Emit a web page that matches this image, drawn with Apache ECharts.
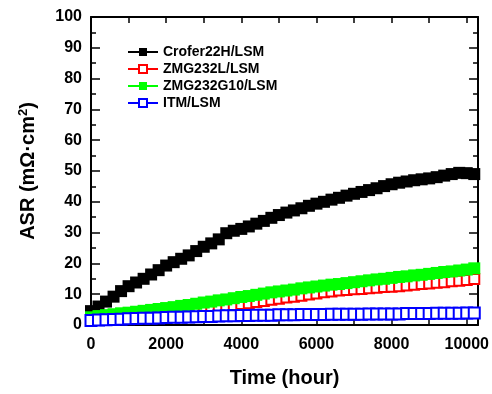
<!DOCTYPE html>
<html>
<head>
<meta charset="utf-8">
<script src="https://cdn.jsdelivr.net/npm/echarts@6/dist/echarts.min.js"></script>
<style>html,body{margin:0;padding:0;background:#fff}#c{width:492px;height:394px}</style>
</head>
<body>
<div id="c"></div>
<script>
var hours = [0,200,400,600,800,1000,1200,1400,1600,1800,2000,2200,2400,2600,2800,3000,3200,3400,3600,3800,4000,4200,4400,4600,4800,5000,5200,5400,5600,5800,6000,6200,6400,6600,6800,7000,7200,7400,7600,7800,8000,8200,8400,8600,8800,9000,9200,9400,9600,9800,10000,10200];
var crofer = [4.5,6.0,7.6,9.2,11.0,12.6,13.8,15.0,16.4,17.8,19.3,20.4,21.5,22.6,24.0,25.4,26.5,27.8,29.8,30.6,31.2,32.0,32.9,33.8,34.8,35.7,36.5,37.2,37.9,38.7,39.4,40.0,40.7,41.3,42.0,42.6,43.2,43.8,44.4,45.1,45.7,46.2,46.6,47.0,47.3,47.6,48.0,48.5,49.0,49.4,49.3,49.0];
var zmgL = [2.0,2.2,2.4,2.6,2.8,3.0,3.2,3.5,3.7,3.9,4.2,4.4,4.6,4.9,5.1,5.4,5.7,6.0,6.2,6.5,6.8,7.1,7.5,7.8,8.2,8.5,8.9,9.2,9.5,9.9,10.2,10.6,10.9,11.2,11.4,11.6,11.7,11.9,12.1,12.3,12.4,12.6,12.8,13.1,13.3,13.5,13.7,13.9,14.2,14.4,14.6,14.9];
var zmgG10 = [2.5,2.9,3.2,3.5,3.8,4.0,4.3,4.6,4.9,5.2,5.5,5.8,6.2,6.5,6.9,7.3,7.6,8.0,8.3,8.7,9.1,9.4,9.8,10.2,10.6,10.9,11.2,11.5,11.9,12.2,12.5,12.8,13.1,13.3,13.6,13.9,14.2,14.5,14.8,15.0,15.3,15.6,15.8,16.1,16.3,16.6,16.9,17.2,17.4,17.7,18.0,18.4];
var itm = [1.5,1.6,1.7,1.8,1.9,2.0,2.1,2.2,2.2,2.3,2.4,2.5,2.5,2.6,2.7,2.8,2.8,2.9,3.0,3.0,3.1,3.1,3.2,3.2,3.2,3.3,3.3,3.3,3.4,3.4,3.4,3.4,3.5,3.5,3.5,3.5,3.5,3.6,3.6,3.6,3.6,3.6,3.7,3.7,3.7,3.7,3.8,3.8,3.8,3.8,3.9,3.9];
var seriesNames = ['Crofer22H/LSM','ZMG232L/LSM','ZMG232G10/LSM','ITM/LSM'];
var xTitle = 'Time (hour)';

function pairs(v){ return hours.map(function(h,i){ return [h, v[i]]; }); }

var FONT = 'Liberation Sans, Arial, sans-serif';
var chart = echarts.init(document.getElementById('c'), null, {renderer:'canvas'});

function xAxisCfg(show, pos){
  return {
    type:'value', position:pos, min:0, max:10300, interval:1000,
    axisLine:{show:true, onZero:false, lineStyle:{color:'#000', width:2}},
    axisTick:{show:true, inside:true, length:6, lineStyle:{color:'#000', width:1.5}},
    splitLine:{show:false},
    axisLabel:{show:show, margin:12, color:'#000', fontFamily:FONT, fontWeight:'bold', fontSize:16,
      showMaxLabel:false,
      formatter:function(v){ return (v % 2000 === 0) ? String(v) : ''; }},
    name: show ? xTitle : '', nameLocation:'middle', nameGap:43,
    nameTextStyle:{color:'#000', fontFamily:FONT, fontWeight:'bold', fontSize:20}
  };
}
function yAxisCfg(show, pos){
  return {
    type:'value', position:pos, min:0, max:100, interval:10,
    axisLine:{show:true, onZero:false, lineStyle:{color:'#000', width:2}},
    axisTick:{show:true, inside:true, length:9, lineStyle:{color:'#000', width:1.5}},
    minorTick:{show:true, splitNumber:2, length:5, lineStyle:{color:'#000', width:1.5}},
    splitLine:{show:false}, minorSplitLine:{show:false},
    axisLabel:{show:show, margin:9, color:'#000', fontFamily:FONT, fontWeight:'bold', fontSize:16},
    name: show ? '{a|ASR (mΩ·cm}{s|2}{a|)}' : '', nameLocation:'middle', nameGap:51, nameRotate:90,
    nameTextStyle:{color:'#000', fontFamily:FONT, fontWeight:'bold', fontSize:20,
      rich:{a:{color:'#000', fontFamily:FONT, fontWeight:'bold', fontSize:20},
            s:{color:'#000', fontFamily:FONT, fontWeight:'bold', fontSize:13, padding:[0,0,10,0]}}}
  };
}

var option = {
  backgroundColor:'#fff',
  animation:false,
  grid:{left:91, right:13, top:17, bottom:69, containLabel:false},
  xAxis:[xAxisCfg(true,'bottom'), xAxisCfg(false,'top')],
  yAxis:[yAxisCfg(true,'left'), yAxisCfg(false,'right')],
  legend:{
    orient:'vertical', left:122, top:40, itemWidth:30, itemHeight:10, itemGap:3,
    data:seriesNames,
    textStyle:{color:'#000', fontFamily:FONT, fontWeight:'bold', fontSize:14, lineHeight:14}
  },
  series:[
    {name:seriesNames[0], type:'line', data:pairs(crofer), symbol:'rect', symbolSize:12,
     itemStyle:{color:'#000'}, lineStyle:{color:'#000', width:1}},
    {name:seriesNames[1], type:'line', data:pairs(zmgL), symbol:'emptyRect', symbolSize:10,
     itemStyle:{color:'#ff0000', borderWidth:1}, lineStyle:{color:'#ff0000', width:1}},
    {name:seriesNames[2], type:'line', data:pairs(zmgG10), symbol:'rect', symbolSize:12,
     itemStyle:{color:'#00ff00'}, lineStyle:{color:'#00ff00', width:1}},
    {name:seriesNames[3], type:'line', data:pairs(itm), symbol:'emptyRect', symbolSize:11,
     itemStyle:{color:'#0000ff', borderWidth:1}, lineStyle:{color:'#0000ff', width:1}}
  ]
};
chart.setOption(option);
</script>
</body>
</html>
